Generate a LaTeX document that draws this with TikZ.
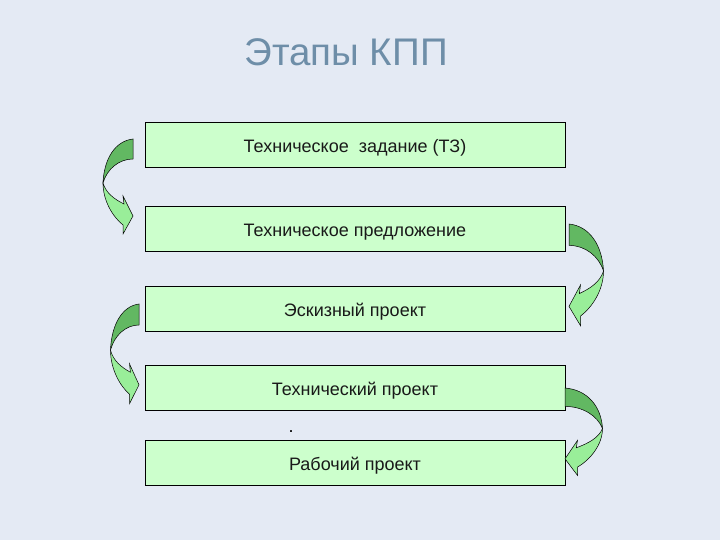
\documentclass[tikz,border=0pt]{standalone}
\usepackage{fontspec}
\setmainfont{Liberation Sans}
\usetikzlibrary{positioning,calc}

\definecolor{slidebg}{HTML}{E4EAF4}
\definecolor{boxgreen}{HTML}{CCFFCC}
\definecolor{backgreen}{HTML}{62B862}
\definecolor{frontgreen}{HTML}{99EE99}
\definecolor{titleblue}{HTML}{6E8EA8}

\tikzset{
  stage/.style={draw, line width=0.8pt, fill=boxgreen, minimum width=420pt,
    minimum height=45pt, inner sep=0pt, outer sep=0pt,
    text height=15pt, text depth=0pt,
    font=\fontsize{18}{21}\selectfont, text=black!90},
  pics/bendarrow/.style={code={
    % back side of the curl
    \filldraw[fill=backgreen, draw=black, line width=0.5pt]
      (0,0) .. controls (-18,2) and (-29,20) .. (-30,44)
            .. controls (-26,30) and (-14,20) .. (0,20) -- cycle;
    % front side with the head
    \filldraw[fill=frontgreen, draw=black, line width=0.5pt]
      (-30,44) .. controls (-30,62) and (-20,78) .. (-10,86)
      -- (-10,95) -- (0,77) -- (-10,57) -- (-9,65)
      .. controls (-19,60) and (-27,54) .. (-30,44) -- cycle;
  }}
}

\begin{document}
\begin{tikzpicture}[x=1pt,y=-1pt]
  \fill[slidebg] (0,0) rectangle (720,540);
  \useasboundingbox (0,0) rectangle (720,540);

  \node (title) at (346,52) [font=\fontsize{38.5}{42}\selectfont, text=titleblue] {Этапы КПП};

  \node (tz)      at (355,145) [stage] {Техническое\ \ задание (ТЗ)};
  \node (offer)   [stage, below=39pt of tz] {Техническое предложение};
  \node (sketch)  [stage, below=35pt of offer] {Эскизный проект};
  \node (tech)    [stage, below=34pt of sketch] {Технический проект};
  \node (work)    [stage, below=30pt of tech] {Рабочий проект};
  \node (dot) at (291,432) [font=\fontsize{18}{21}\selectfont] {.};

  \pic at ($(tz.west)+(-12,-6)$) {bendarrow};
  \pic[xscale=-1.15, yscale=1.07] at ($(offer.east)+(4,-5)$) {bendarrow};
  \pic[xscale=0.95, yscale=1.05] at ($(sketch.west)+(-6,-5)$) {bendarrow};
  \pic[xscale=-1.25, yscale=0.92] at ($(tech.east)+(0,0)$) {bendarrow};
\end{tikzpicture}
\end{document}
